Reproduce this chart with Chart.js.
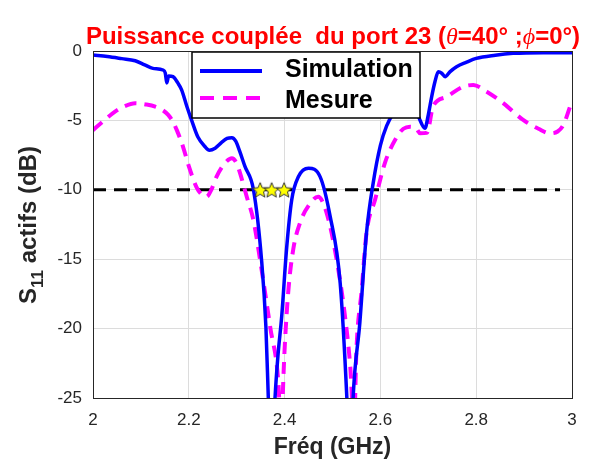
<!DOCTYPE html>
<html>
<head>
<meta charset="utf-8">
<script src="https://cdn.jsdelivr.net/npm/chart.js@4.4.1/dist/chart.umd.min.js"></script>
<style>
  html, body { margin: 0; padding: 0; background: #fff; }
  #wrap { width: 595px; height: 470px; }
</style>
</head>
<body>
<div id="wrap"><canvas id="s11-chart" width="595" height="470"></canvas></div>
<script>
// Simulation (trait plein bleu)
var freqSim = [2.000, 2.030, 2.060, 2.088, 2.108, 2.125, 2.146, 2.151, 2.154, 2.158, 2.167, 2.177, 2.185, 2.196, 2.206, 2.219, 2.234, 2.243, 2.255, 2.268, 2.280, 2.290, 2.298, 2.306, 2.317, 2.335, 2.352, 2.361, 2.366, 2.372, 2.380, 2.386, 2.394, 2.404, 2.415, 2.429, 2.450, 2.474, 2.495, 2.516, 2.530, 2.537, 2.543, 2.557, 2.571, 2.585, 2.600, 2.613, 2.627, 2.645, 2.658, 2.670, 2.679, 2.693, 2.700, 2.707, 2.714, 2.721, 2.728, 2.735, 2.745, 2.759, 2.780, 2.800, 2.840, 2.877, 2.940, 3.000];
var s11Sim  = [-0.29, -0.40, -0.55, -0.70, -1.00, -1.25, -1.37, -1.60, -2.30, -1.80, -1.85, -2.30, -2.80, -4.00, -5.00, -6.20, -6.90, -7.15, -7.00, -6.60, -6.30, -6.25, -6.50, -7.20, -8.30, -10.0, -15.1, -19.9, -25.0, -31.0, -25.0, -22.0, -19.1, -14.3, -10.7, -9.05, -8.45, -9.05, -11.9, -16.7, -25.0, -31.0, -25.0, -19.6, -13.1, -9.50, -6.80, -5.40, -4.50, -3.90, -3.77, -4.10, -4.70, -5.57, -4.60, -3.30, -2.20, -1.50, -1.60, -1.85, -1.50, -1.13, -0.80, -0.53, -0.30, -0.17, -0.12, -0.12];

// Mesure (tirets magenta)
var freqMes = [2.000, 2.020, 2.046, 2.065, 2.088, 2.110, 2.130, 2.145, 2.157, 2.167, 2.175, 2.188, 2.200, 2.216, 2.226, 2.237, 2.247, 2.258, 2.275, 2.290, 2.300, 2.307, 2.321, 2.335, 2.349, 2.370, 2.387, 2.393, 2.397, 2.400, 2.408, 2.418, 2.432, 2.453, 2.470, 2.488, 2.509, 2.526, 2.537, 2.545, 2.550, 2.561, 2.571, 2.589, 2.610, 2.634, 2.648, 2.662, 2.675, 2.683, 2.697, 2.710, 2.738, 2.773, 2.794, 2.822, 2.857, 2.898, 2.930, 2.954, 2.970, 2.982, 2.996];
var s11Mes  = [-5.70, -5.10, -4.37, -4.00, -3.77, -3.85, -4.00, -4.25, -4.60, -5.10, -5.70, -6.90, -8.30, -9.80, -10.3, -10.5, -10.0, -9.05, -8.10, -7.73, -8.10, -8.80, -10.5, -12.2, -15.1, -19.9, -23.9, -28.0, -24.0, -21.5, -17.2, -14.3, -12.4, -11.0, -10.5, -11.7, -15.1, -19.1, -22.7, -27.0, -21.5, -17.2, -13.1, -10.7, -8.00, -6.20, -5.60, -5.45, -5.60, -5.93, -5.90, -4.00, -3.30, -2.57, -2.45, -2.93, -3.77, -4.97, -5.60, -5.93, -5.80, -5.33, -4.00];

// seuil -10 dB et étoiles
var seuilFreq = [2.0, 2.975];
var seuilVal = -10;
var starFreq = [2.349, 2.373, 2.399];

var xTickMin = 2, xTickMax = 3, xTickStep = 0.2;
var yTickMin = -25, yTickMax = 0, yTickStep = 5;

function pts(xs, ys) {
  var out = [];
  for (var i = 0; i < xs.length; i++) out.push({x: xs[i], y: ys[i]});
  return out;
}

// étoile jaune pleine
var star = document.createElement('canvas');
star.width = 18; star.height = 18;
(function(){
  var c = star.getContext('2d');
  c.beginPath();
  for (var k = 0; k < 10; k++) {
    var r = (k % 2 === 0) ? 8 : 3.6;
    var a = -Math.PI / 2 + k * Math.PI / 5;
    var px = 9 + r * Math.cos(a), py = 9.8 + r * Math.sin(a);
    if (k === 0) c.moveTo(px, py); else c.lineTo(px, py);
  }
  c.closePath();
  c.fillStyle = '#ffff00';
  c.fill();
  c.lineWidth = 1;
  c.strokeStyle = '#333';
  c.stroke();
})();

var textes = {
  id: 'textes',
  afterDatasetsDraw: function(chart) {
    var ctx = chart.ctx;
    ctx.save();
    // légende
    var lx = 192, ly = 52, lw = 228, lh = 66;
    ctx.fillStyle = '#fff';
    ctx.fillRect(lx, ly, lw, lh);
    ctx.strokeStyle = '#000';
    ctx.lineWidth = 1.5;
    ctx.strokeRect(lx, ly, lw, lh);
    ctx.lineWidth = 4;
    ctx.strokeStyle = '#0000ff';
    ctx.beginPath(); ctx.moveTo(200, 71); ctx.lineTo(262, 71); ctx.stroke();
    ctx.strokeStyle = '#ff00ff';
    ctx.setLineDash([14, 9]);
    ctx.beginPath(); ctx.moveTo(200, 98); ctx.lineTo(262, 98); ctx.stroke();
    ctx.setLineDash([]);
    ctx.fillStyle = '#000';
    ctx.font = 'bold 25px "Liberation Sans", Arial, sans-serif';
    ctx.textBaseline = 'alphabetic';
    ctx.fillText('Simulation', 285, 77);
    ctx.fillText('Mesure', 285, 108);
    ctx.restore();
  },
  afterDraw: function(chart) {
    var ctx = chart.ctx, a = chart.chartArea;
    ctx.save();
    // cadre
    ctx.strokeStyle = '#262626';
    ctx.lineWidth = 1;
    ctx.strokeRect(a.left + 0.5, a.top + 0.5, a.right - a.left, a.bottom - a.top);

    // titre
    var segs = [
      {t: 'Puissance couplée  du port 23 (', f: 'bold 24px "Liberation Sans", Arial, sans-serif'},
      {t: 'θ', f: 'italic 24px "Liberation Serif", serif'},
      {t: '=40° ;', f: 'bold 24px "Liberation Sans", Arial, sans-serif'},
      {t: 'ϕ', f: 'italic 24px "Liberation Serif", serif'},
      {t: '=0°)', f: 'bold 24px "Liberation Sans", Arial, sans-serif'}
    ];
    var tot = 0;
    segs.forEach(function(s){ ctx.font = s.f; s.w = ctx.measureText(s.t).width; tot += s.w; });
    var x = 333 - tot / 2;
    ctx.fillStyle = '#ff0000';
    ctx.textBaseline = 'alphabetic';
    segs.forEach(function(s){ ctx.font = s.f; ctx.fillText(s.t, x, 44); x += s.w; });

    // titre axe x
    ctx.fillStyle = '#262626';
    ctx.font = 'bold 23px "Liberation Sans", Arial, sans-serif';
    ctx.textAlign = 'center';
    ctx.textBaseline = 'middle';
    ctx.fillText('Fréq (GHz)', (a.left + a.right) / 2, 448);

    // titre axe y avec indice
    ctx.translate(28, 225);
    ctx.rotate(-Math.PI / 2);
    ctx.textAlign = 'left';
    ctx.textBaseline = 'alphabetic';
    var fMain = 'bold 24px "Liberation Sans", Arial, sans-serif';
    var fSub = 'bold 17px "Liberation Sans", Arial, sans-serif';
    ctx.font = fMain; var w1 = ctx.measureText('S').width;
    ctx.font = fSub; var w2 = ctx.measureText('11').width;
    ctx.font = fMain; var w3 = ctx.measureText(' actifs (dB)').width;
    var sx = -(w1 + w2 + w3) / 2;
    ctx.font = fMain; ctx.fillText('S', sx, 8);
    ctx.font = fSub; ctx.fillText('11', sx + w1, 15);
    ctx.font = fMain; ctx.fillText(' actifs (dB)', sx + w1 + w2, 8);
    ctx.restore();
  }
};

// le premier jeu de données est dessiné au-dessus
var ctx = document.getElementById('s11-chart');
var chart = new Chart(ctx, {
  type: 'line',
  data: {
    datasets: [
      {
        label: 'Etoiles',
        data: pts(starFreq, starFreq.map(function(){ return seuilVal; })),
        showLine: false,
        pointStyle: star,
        pointRadius: 9
      },
      {
        label: 'Simulation',
        data: pts(freqSim, s11Sim),
        borderColor: '#0000ff',
        borderWidth: 3.5,
        pointRadius: 0,
        cubicInterpolationMode: 'monotone'
      },
      {
        label: 'Mesure',
        data: pts(freqMes, s11Mes),
        borderColor: '#ff00ff',
        borderWidth: 4,
        borderDash: [12, 8],
        pointRadius: 0,
        cubicInterpolationMode: 'monotone'
      },
      {
        label: 'Seuil',
        data: pts(seuilFreq, [seuilVal, seuilVal]),
        borderColor: '#000',
        borderWidth: 3,
        borderDash: [13, 8],
        pointRadius: 0
      }
    ]
  },
  options: {
    responsive: false,
    animation: false,
    layout: { padding: { left: 0, right: 23, top: 51, bottom: 0 } },
    plugins: { legend: { display: false }, tooltip: { enabled: false }, title: { display: false } },
    scales: {
      x: {
        type: 'linear',
        min: xTickMin, max: xTickMax,
        ticks: {
          stepSize: xTickStep, padding: 12, color: '#262626',
          font: { family: '"Liberation Sans", Arial, sans-serif', size: 17 },
          callback: function(v) { return String(Math.round(v * 10) / 10); }
        },
        grid: { color: '#dcdcdc', drawTicks: false },
        border: { display: false },
        afterFit: function(s) { s.height = 72; }
      },
      y: {
        min: yTickMin, max: yTickMax,
        ticks: { stepSize: yTickStep, padding: 11, color: '#262626', font: { family: '"Liberation Sans", Arial, sans-serif', size: 17 } },
        grid: { color: '#dcdcdc', drawTicks: false },
        border: { display: false },
        afterFit: function(s) { s.width = 93; }
      }
    }
  },
  plugins: [textes]
});
</script>
</body>
</html>
